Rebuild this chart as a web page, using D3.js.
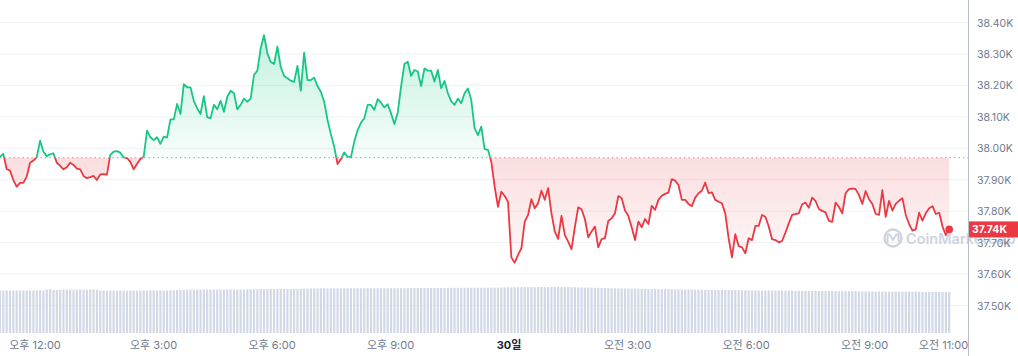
<!DOCTYPE html>
<html><head><meta charset="utf-8">
<script src="https://cdn.jsdelivr.net/npm/d3@7"></script>
<style>
body{margin:0;background:#fff;}
svg{display:block;font-family:Inter,"Noto Sans CJK KR",sans-serif;}
</style>
</head><body>
<svg id="c" width="1018" height="356"></svg>
<script>
// ---- data ----
const prices = [
37973,37982,37934,37929,37899,37878,37890,37890,37910,37954,37961,37972,38024,37989,37975,
37981,37984,37954,37944,37933,37940,37954,37947,37935,37933,37912,37905,37908,37912,37899,
37917,37918,37916,37979,37989,37991,37986,37971,37969,37957,37933,37950,37966,37973,38056,
38035,38026,38035,38014,38037,38034,38092,38092,38141,38109,38204,38194,38194,38151,38127,
38109,38166,38099,38095,38138,38124,38151,38116,38164,38183,38175,38124,38138,38158,38148,
38158,38233,38247,38318,38360,38302,38275,38268,38323,38259,38230,38223,38215,38211,38262,
38183,38304,38217,38217,38224,38198,38180,38148,38090,38045,38005,37950,37965,37987,37973,
37971,38021,38058,38081,38095,38138,38138,38122,38156,38145,38130,38140,38111,38077,38113,
38196,38268,38275,38230,38249,38244,38198,38254,38247,38247,38212,38249,38191,38214,38175,
38150,38138,38158,38143,38175,38190,38154,38064,38042,38069,37997,37995,37957,37878,37814,
37862,37848,37830,37653,37636,37661,37682,37767,37788,37838,37809,37825,37865,37836,37873,
37793,37735,37712,37785,37724,37703,37679,37749,37812,37806,37775,37717,37735,37751,37685,
37711,37714,37769,37777,37793,37848,37841,37802,37785,37749,37708,37767,37749,37775,37759,
37817,37804,37836,37849,37855,37859,37902,37897,37883,37836,37836,37823,37816,37843,37857,
37865,37891,37857,37860,37836,37830,37825,37793,37714,37653,37727,37689,37685,37666,37714,
37708,37753,37753,37788,37782,37751,37711,37708,37701,37705,37732,37761,37788,37791,37793,
37822,37827,37811,37843,37833,37807,37801,37796,37769,37766,37827,37814,37793,37857,37870,
37872,37870,37851,37823,37864,37838,37823,37791,37788,37867,37782,37833,37802,37823,37833,
37841,37788,37759,37738,37742,37795,37770,37793,37809,37816,37791,37795,37751,37724,37742
];
const volumes = [
850,848,852,850,851,849,850,853,850,848,850,852,851,850,870,
875,860,862,865,868,870,868,866,869,870,868,866,870,868,864,
850,848,846,850,849,847,848,850,846,848,850,847,849,850,852,
852,850,853,851,850,852,854,856,858,860,866,868,870,868,870,
870,868,872,870,869,871,870,868,870,872,871,870,868,870,872,
874,876,878,880,878,879,880,878,880,882,880,879,881,880,882,
884,886,888,890,892,890,891,893,892,890,894,892,893,895,894,
894,895,896,894,895,897,896,895,898,896,897,895,896,898,897,
898,897,899,898,900,899,898,900,901,899,900,902,900,901,903,
902,903,904,902,905,904,903,905,906,904,905,906,905,907,906,
910,912,914,915,916,915,917,918,916,918,917,919,918,917,918,
918,917,919,918,916,917,915,914,912,910,908,906,905,904,902,
900,898,896,895,893,892,890,889,888,887,886,885,884,883,882,
880,879,878,877,876,875,874,873,872,871,870,869,868,867,866,
865,864,863,862,861,860,862,861,860,859,858,857,856,855,854,
853,852,851,852,850,849,850,848,847,848,846,845,846,844,843,
842,843,841,840,841,839,840,838,839,837,838,836,837,835,836,
834,835,833,832,834,831,832,830,831,829,830,828,829,827,828,
826,827,825,824,826,823,824,822,823,821,822,820,821,819,818
];
const baselinePrice = 37970;
const lastPriceLabel = "37.74K";
const startTime = "2023-11-29T11:06:48";
const stepMinutes = 5.077;
const yTicks = [37500,37600,37700,37800,37900,38000,38100,38200,38300,38400];
const xTickTimes = ["2023-11-29T12:00","2023-11-29T15:00","2023-11-29T18:00","2023-11-29T21:00",
  "2023-11-30T00:00","2023-11-30T03:00","2023-11-30T06:00","2023-11-30T09:00","2023-11-30T11:00"];
const xTickLabels = ["오후 12:00","오후 3:00","오후 6:00","오후 9:00","30일","오전 3:00","오전 6:00","오전 9:00","오전 11:00"];
const boldTicks = ["30일"];

// ---- build ----
const t0 = new Date(startTime).getTime();
const data = prices.map((p,i)=>({t:new Date(t0 + i*stepMinutes*60000), p, v:volumes[i]}));

const W = 1018, H = 356, plotRight = 968;
const svg = d3.select("#c");
const x = d3.scaleTime()
  .domain([new Date(xTickTimes[0]), new Date(xTickTimes[xTickTimes.length-1])])
  .range([35, 943.5]);
const y = d3.scaleLinear().domain([37500,38400]).range([305.5,22.5]);
const yv = d3.scaleLinear().domain([0,1000]).range([333,283]);
const yb = y(baselinePrice);

const green = "#16c784", red = "#ea3943";
const defs = svg.append("defs");
const gg = defs.append("linearGradient").attr("id","gG").attr("gradientUnits","userSpaceOnUse")
  .attr("x1",0).attr("x2",0).attr("y1",y(38360)).attr("y2",yb);
gg.append("stop").attr("offset",0).attr("stop-color",green).attr("stop-opacity",0.26);
gg.append("stop").attr("offset",1).attr("stop-color",green).attr("stop-opacity",0.03);
const rg = defs.append("linearGradient").attr("id","gR").attr("gradientUnits","userSpaceOnUse")
  .attr("x1",0).attr("x2",0).attr("y1",yb).attr("y2",y(37630));
rg.append("stop").attr("offset",0).attr("stop-color",red).attr("stop-opacity",0.17);
rg.append("stop").attr("offset",1).attr("stop-color",red).attr("stop-opacity",0.03);
defs.append("clipPath").attr("id","cUp").append("rect").attr("x",-5).attr("y",-5).attr("width",plotRight+5).attr("height",yb+5);
defs.append("clipPath").attr("id","cDn").append("rect").attr("x",-5).attr("y",yb).attr("width",plotRight+5).attr("height",H-yb);
defs.append("clipPath").attr("id","cX").append("rect").attr("x",0).attr("y",330).attr("width",plotRight).attr("height",30);

// gridlines
svg.append("g").selectAll("line").data(yTicks).join("line")
  .attr("x1",0).attr("x2",plotRight).attr("y1",d=>y(d)).attr("y2",d=>y(d))
  .attr("stroke","#eff2f5").attr("stroke-width",1);

// volume bars
svg.append("g").selectAll("rect").data(data).join("rect")
  .attr("x",d=>x(d.t)-1.1).attr("width",2.2)
  .attr("y",d=>yv(d.v)).attr("height",d=>yv(0)-yv(d.v))
  .attr("fill","#d1d8e6");

// baseline dotted
svg.append("line").attr("x1",0).attr("x2",plotRight).attr("y1",yb).attr("y2",yb)
  .attr("stroke","#a9b2c2").attr("stroke-width",1.2).attr("stroke-dasharray","1.3,3.2");

const area = d3.area().x(d=>x(d.t)).y0(yb).y1(d=>y(d.p));
const line = d3.line().x(d=>x(d.t)).y(d=>y(d.p));
svg.append("path").datum(data).attr("d",area).attr("fill","url(#gG)").attr("clip-path","url(#cUp)");
svg.append("path").datum(data).attr("d",area).attr("fill","url(#gR)").attr("clip-path","url(#cDn)");
svg.append("path").datum(data).attr("d",line).attr("fill","none").attr("stroke",green)
  .attr("stroke-width",1.8).attr("stroke-linejoin","round").attr("clip-path","url(#cUp)");
svg.append("path").datum(data).attr("d",line).attr("fill","none").attr("stroke",red)
  .attr("stroke-width",1.8).attr("stroke-linejoin","round").attr("clip-path","url(#cDn)");

// end dot
const last = data[data.length-1];
svg.append("circle").attr("cx",x(last.t)).attr("cy",y(last.p)).attr("r",3.8).attr("fill",red);

// right axis area
svg.append("rect").attr("x",plotRight).attr("y",0).attr("width",W-plotRight).attr("height",H).attr("fill","#fff");

// watermark (spans into the axis area, under the price box)
const wm = svg.append("g").attr("opacity",0.9);
wm.append("circle").attr("cx",893).attr("cy",238).attr("r",8.5).attr("fill","none")
  .attr("stroke","#c8d0dc").attr("stroke-width",2.4);
wm.append("path").attr("d","M887.5,242 L887.5,236 Q888,233 890,235 L893,240 L896,235 Q898,233 898.5,236 L898.5,240 Q899,242 901,241")
  .attr("fill","none").attr("stroke","#c8d0dc").attr("stroke-width",2).attr("stroke-linecap","round");
wm.append("text").attr("x",906).attr("y",243.5).text("CoinMarketCap")
  .attr("font-size",14.5).attr("font-weight",600).attr("fill","#c8d0dc");

svg.append("line").attr("x1",plotRight+0.5).attr("x2",plotRight+0.5).attr("y1",0).attr("y2",H)
  .attr("stroke","#b8bec9").attr("stroke-width",1);
svg.append("g").selectAll("text").data(yTicks).join("text")
  .attr("x",977).attr("y",d=>y(d)+4).text(d=>(d/1000).toFixed(2)+"K")
  .attr("font-size",10.5).attr("fill","#6f7a8e");

// price label
svg.append("rect").attr("x",plotRight+1).attr("y",y(last.p)-8).attr("width",W-plotRight-1).attr("height",16).attr("fill",red);
svg.append("text").attr("x",plotRight+4).attr("y",y(last.p)+4).text(lastPriceLabel)
  .attr("font-size",10.5).attr("font-weight",700).attr("fill","#fff");

// x axis labels
const xa = svg.append("g").attr("clip-path","url(#cX)");
xa.selectAll("text").data(xTickTimes).join("text")
  .attr("x",d=>x(new Date(d))).attr("y",349).attr("text-anchor","middle")
  .text((d,i)=>xTickLabels[i])
  .attr("font-size",11)
  .attr("font-weight",(d,i)=>boldTicks.includes(xTickLabels[i])?700:400)
  .attr("fill",(d,i)=>boldTicks.includes(xTickLabels[i])?"#222531":"#6f7a8e");
</script>
</body></html>
